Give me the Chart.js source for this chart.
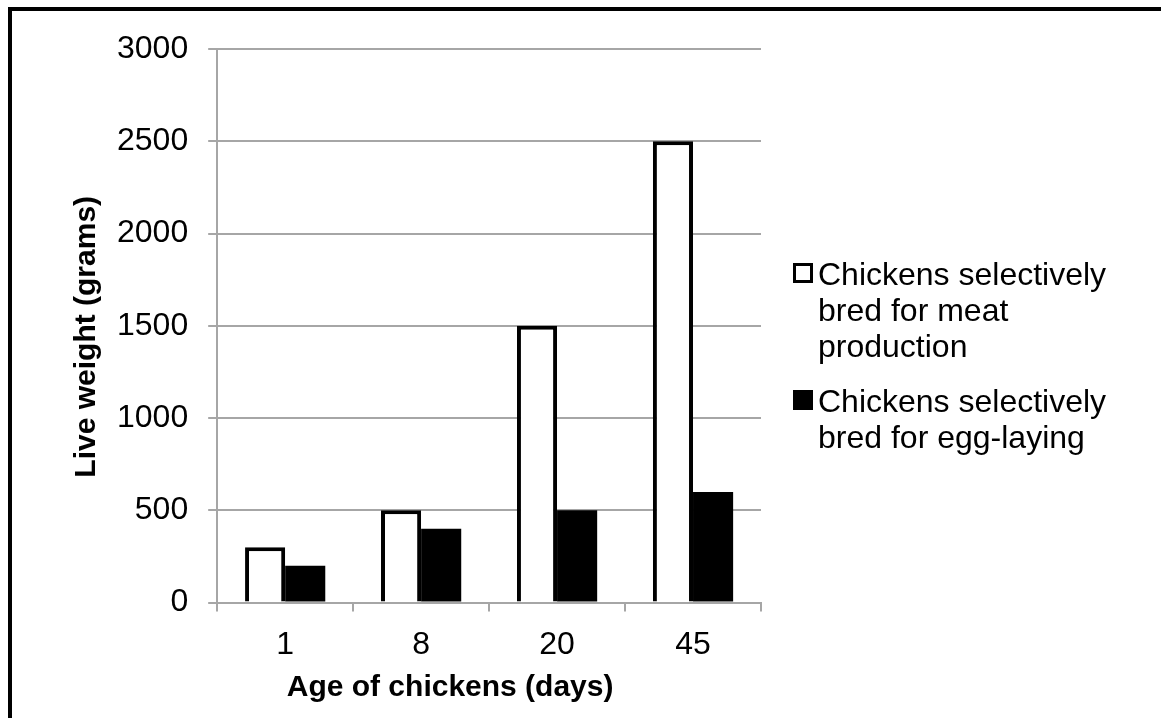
<!DOCTYPE html>
<html>
<head>
<meta charset="utf-8">
<script src="https://cdn.jsdelivr.net/npm/chart.js@4/dist/chart.umd.min.js"></script>
<style>
  body { margin: 0; background: #fff; overflow: hidden; }
  #wrap { position: relative; width: 1161px; height: 718px; }
  #frame { position: absolute; left: 8px; top: 7px; width: 1300px; height: 900px;
           border-left: 4px solid #000; border-top: 4px solid #000; }
  #legend { position: absolute; left: 793px; top: 256px;
            font-family: "Liberation Sans", Arial, sans-serif; font-size: 32px;
            line-height: 36px; color: #000; }
  .item { position: relative; padding-left: 25px; margin-bottom: 19px; white-space: nowrap; }
  .box { position: absolute; left: 0; top: 7px; width: 20px; height: 20px; box-sizing: border-box; }
</style>
</head>
<body>
<div id="wrap">
  <div id="frame"></div>
  <canvas id="bar"></canvas>
  <div id="legend">
    <div class="item"><span class="box" style="border:3px solid #000;background:#fff"></span>Chickens selectively<br>bred for meat<br>production</div>
    <div class="item"><span class="box" style="background:#000"></span>Chickens selectively<br>bred for egg-laying</div>
  </div>
</div>
<script>
const ages = ['1', '8', '20', '45'];
const meatWeights = [300, 500, 1500, 2500];
const eggWeights = [200, 400, 500, 600];
const seriesNames = ['Chickens selectively bred for meat production', 'Chickens selectively bred for egg-laying'];
const xTitle = 'Age of chickens (days)';
const yTitle = 'Live weight (grams)';

const font = '"Liberation Sans", Arial, sans-serif';
const gridGray = '#a6a6a6';

// axis titles drawn by hand so they can sit where the original had them
const axisTitles = {
    id: 'axisTitles',
    afterDraw(chart) {
        const ctx = chart.ctx;
        const a = chart.chartArea;
        ctx.save();
        ctx.fillStyle = '#000';
        ctx.font = 'bold 30px ' + font;
        ctx.textAlign = 'center';
        ctx.textBaseline = 'alphabetic';
        ctx.fillText(xTitle, (a.left + a.right) / 2 - 39, a.bottom + 93);
        ctx.translate(a.left - 122, (a.top + a.bottom) / 2 + 11);
        ctx.rotate(-Math.PI / 2);
        ctx.fillText(yTitle, 0, 0);
        ctx.restore();
    }
};

const ctx = document.getElementById('bar').getContext('2d');
const myChart = new Chart(ctx, {
    type: 'bar',
    data: {
        labels: ages,
        datasets: [{
            label: seriesNames[0],
            data: meatWeights,
            backgroundColor: '#ffffff',
            borderColor: '#000000',
            borderWidth: 4
        }, {
            label: seriesNames[1],
            data: eggWeights,
            backgroundColor: '#000000',
            borderColor: '#000000',
            borderWidth: 0
        }]
    },
    options: {
        responsive: true,
        maintainAspectRatio: false,
        animation: false,
        barPercentage: 1,
        categoryPercentage: 0.59,
        plugins: {
            legend: { display: false },
            tooltip: { enabled: false }
        },
        layout: {
            padding: { left: 97, right: 400, top: 49, bottom: 40 }
        },
        scales: {
            x: {
                grid: {
                    drawOnChartArea: false,
                    color: gridGray,
                    lineWidth: 2,
                    tickLength: 9
                },
                border: { color: gridGray, width: 2 },
                ticks: {
                    color: '#000',
                    font: { family: font, size: 32 },
                    padding: 14
                }
            },
            y: {
                min: 0,
                max: 3000,
                ticks: {
                    stepSize: 500,
                    color: '#000',
                    font: { family: font, size: 32 },
                    padding: 20,
                    callback: (v) => String(v)
                },
                grid: {
                    color: gridGray,
                    lineWidth: 2,
                    tickLength: 9
                },
                border: { color: gridGray, width: 2 }
            }
        }
    },
    plugins: [axisTitles]
});
</script>
</body>
</html>
